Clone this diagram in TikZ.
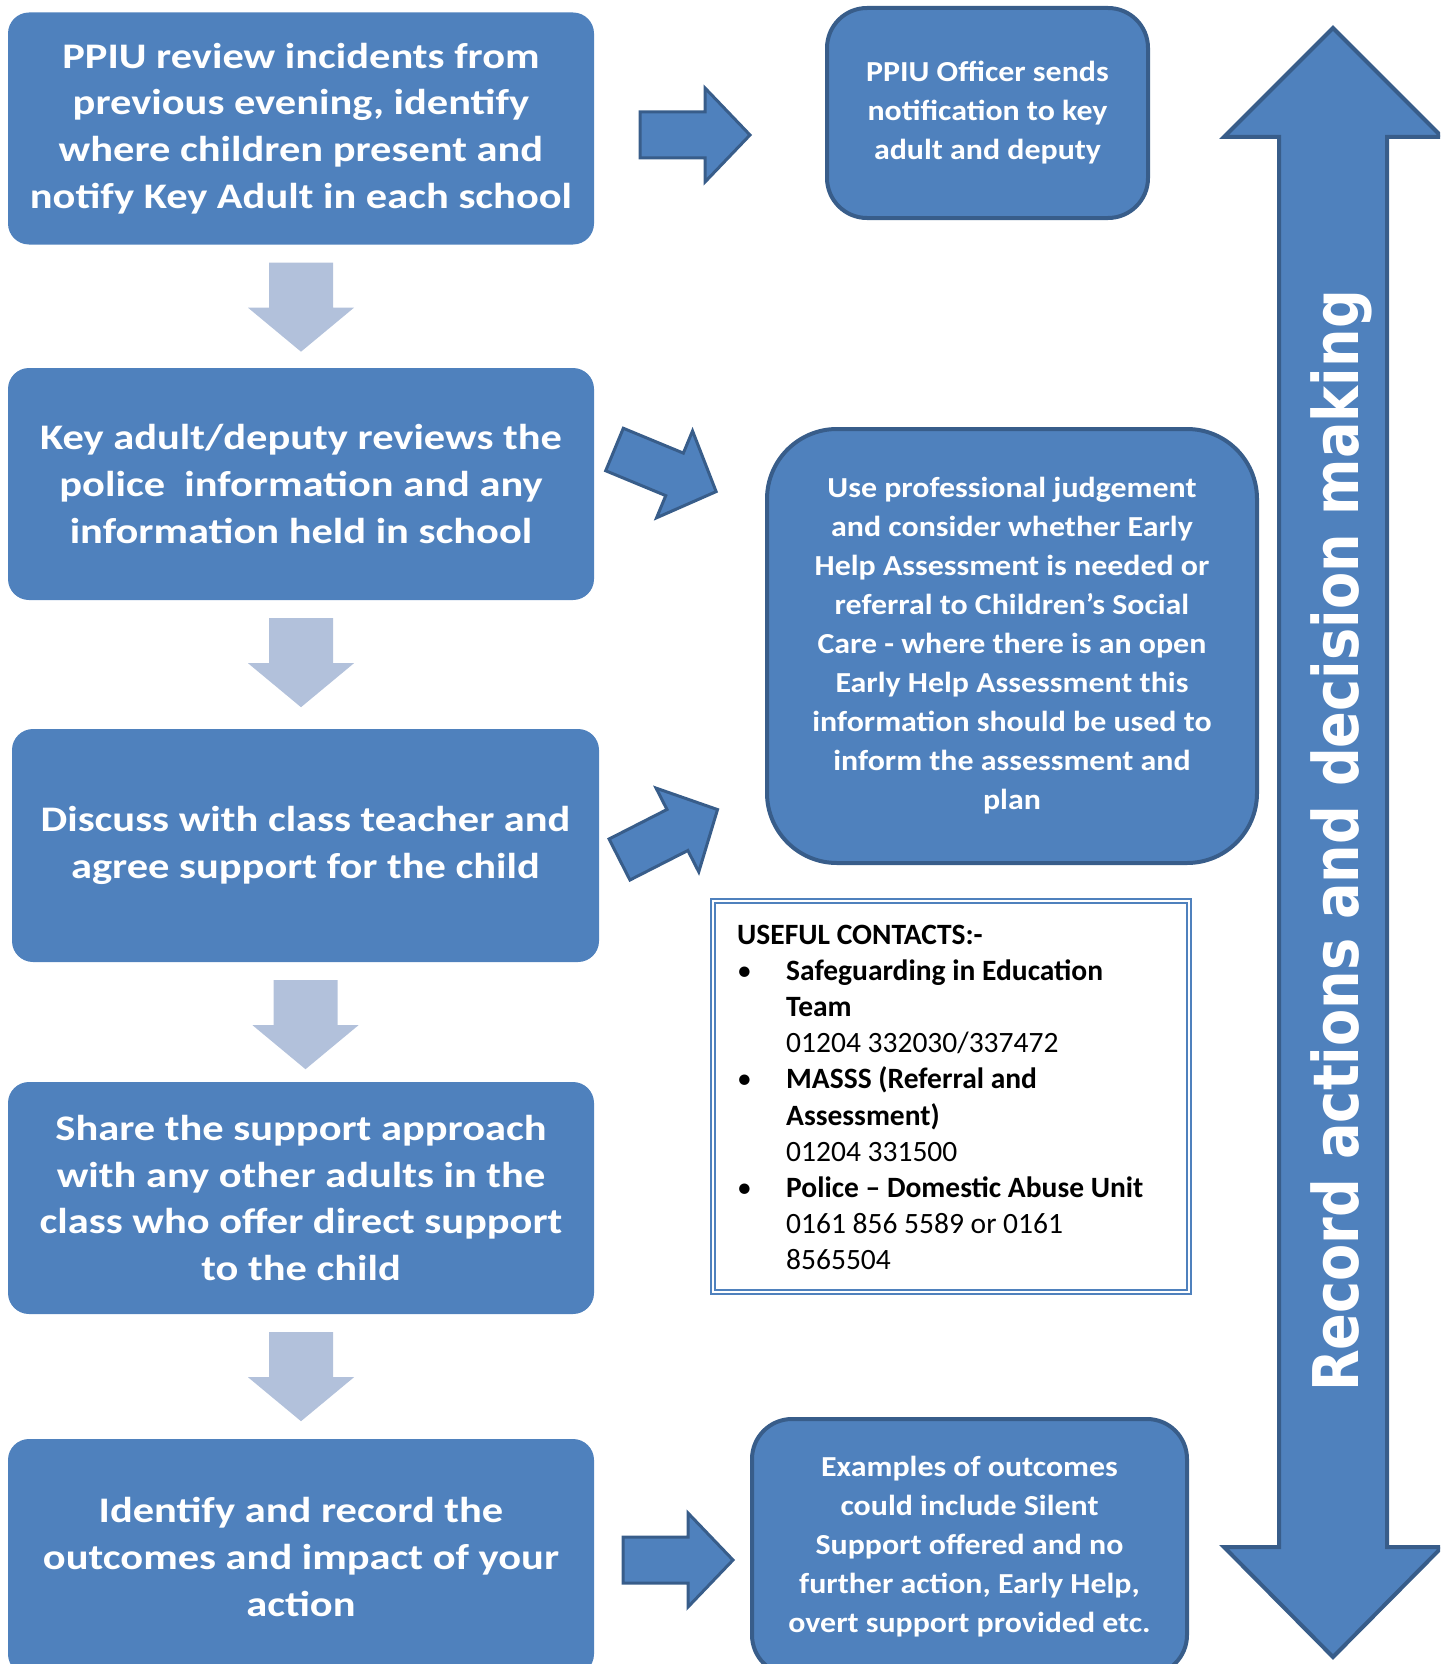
\documentclass[tikz,border=0pt]{standalone}
\usepackage{fontspec}
\setmainfont{Carlito}
\newfontfamily\stepfont[FakeStretch=1.18]{Carlito}
\newfontfamily\notefont[FakeStretch=1.1]{Carlito}
\newfontfamily\recordfont[FakeStretch=0.86]{DejaVu Sans}
\usepackage{tikz}
\definecolor{boxblue}{HTML}{4F81BD}
\definecolor{edgeblue}{HTML}{385D8A}
\definecolor{paleblue}{HTML}{B2C1DB}
\tikzset{
  stepbox/.style={fill=boxblue, rounded corners=21pt, minimum width=586pt, minimum height=232pt,
    text=white, align=center, inner sep=0pt, font={\stepfont\bfseries\fontsize{36}{46.7}\selectfont}},
  notebox/.style={fill=boxblue, draw=edgeblue, line width=4pt, text=white, align=center,
    inner sep=0pt, font={\notefont\bfseries\fontsize{29}{39}\selectfont}},
  downarr/.style={fill=paleblue},
  sidearr/.style={fill=boxblue, draw=edgeblue, line width=3pt, line join=miter},
}

\begin{document}
\begin{tikzpicture}[x=1pt,y=-1pt]
\clip (0,0) rectangle (1440,1664);

% left column
\node[stepbox] (review) at (301,128.5) {PPIU review incidents from\\previous evening, identify\\where children present and\\notify Key Adult in each school};
\node[stepbox] (keyadult) at (301,484) {Key adult/deputy reviews the\\police\ \ information and any\\information held in school};
\node[stepbox, minimum width=587pt, minimum height=233pt] (discuss) at (305.5,845.5) {Discuss with class teacher and\\agree support for the child};
\node[stepbox] (share) at (301,1198) {Share the support approach\\with any other adults in the\\class who offer direct support\\to the child};
\node[stepbox, minimum height=236pt] (outcome) at (301,1557) {Identify and record the\\outcomes and impact of your\\action};

\foreach \n in {review,keyadult,discuss,share}
  \fill[downarr, shift={(\n.south)}] (-32,18) -- (32,18) -- (32,63) -- (53,63) -- (0,107) -- (-53,63) -- (-32,63) -- cycle;

% right column
\node[notebox, minimum width=321pt, minimum height=210pt, rounded corners=40pt] (notify) at (987.5,113) {PPIU Officer sends\\notification to key\\adult and deputy};
\node[notebox, minimum width=490pt, minimum height=434pt, rounded corners=70pt] (judge) at (1012,646) {Use professional judgement\\and consider whether Early\\Help Assessment is needed or\\referral to Children’s Social\\Care - where there is an open\\Early Help Assessment this\\information should be used to\\inform the assessment and\\plan};
\node[notebox, minimum width=435pt, minimum height=256pt, rounded corners=40pt] (examples) at (969.5,1547) {Examples of outcomes\\could include Silent\\Support offered and no\\further action, Early Help,\\overt support provided etc.};

\draw[sidearr, shift={(640,135)}] (0,-23) -- (65,-23) -- (65,-47) -- (110,0) -- (65,47) -- (65,23) -- (0,23) -- cycle;
\draw[sidearr, shift={(614.5,449.5)}, rotate=-22.5] (0,-23) -- (65,-23) -- (65,-47) -- (110,0) -- (65,47) -- (65,23) -- (0,23) -- cycle;
\draw[sidearr, shift={(619.5,859.5)}, rotate=27] (0,-23) -- (65,-23) -- (65,-47) -- (110,0) -- (65,47) -- (65,23) -- (0,23) -- cycle;
\draw[sidearr, shift={(623,1560)}] (0,-23) -- (65,-23) -- (65,-47) -- (110,0) -- (65,47) -- (65,23) -- (0,23) -- cycle;

% contacts
\draw[boxblue, double=white, line width=1.6pt, double distance=2.4pt] (712.8,900.8) rectangle (1189.2,1292.2);
\node[anchor=north west, align=left, inner sep=0pt, font={\fontsize{29.5}{36.2}\selectfont}] (contacts) at (737,924.5) {\textbf{USEFUL CONTACTS:-}\\
\makebox[49pt][l]{\textbullet}\textbf{Safeguarding in Education}\\
\hspace*{49pt}\textbf{Team}\\
\hspace*{49pt}01204 332030/337472\\
\makebox[49pt][l]{\textbullet}\textbf{MASSS (Referral and}\\
\hspace*{49pt}\textbf{Assessment)}\\
\hspace*{49pt}01204 331500\\
\makebox[49pt][l]{\textbullet}\textbf{Police – Domestic Abuse Unit}\\
\hspace*{49pt}0161 856 5589 or 0161\\
\hspace*{49pt}8565504};

% record arrow
\filldraw[fill=boxblue, draw=edgeblue, line width=4pt, line join=miter] (1333,28) -- (1442,137) -- (1387,137) -- (1387,1547) -- (1442,1547) -- (1333,1657) -- (1224,1547) -- (1279,1547) -- (1279,137) -- (1224,137) -- cycle;
\node[rotate=90, anchor=base, text=white, inner sep=0pt, font={\recordfont\bfseries\fontsize{63}{70}\selectfont}] (record) at (1358,841) {Record actions and decision making};
\end{tikzpicture}
\end{document}
